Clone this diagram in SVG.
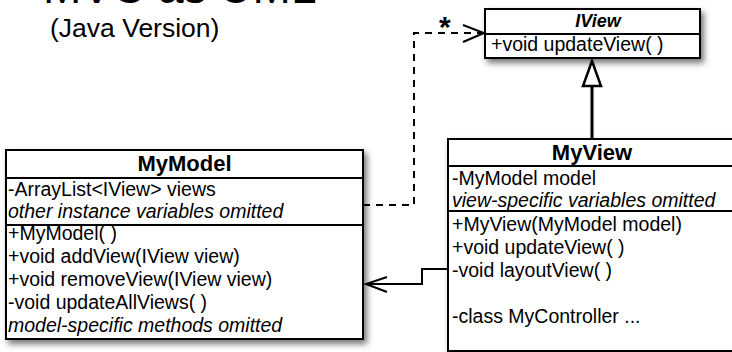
<svg xmlns="http://www.w3.org/2000/svg" width="732" height="352" viewBox="0 0 732 352">
<defs>
<filter id="sh" x="-10%" y="-10%" width="130%" height="140%">
<feDropShadow dx="3" dy="4" stdDeviation="3" flood-color="#000" flood-opacity="0.55"/>
</filter>
<style>
text{font-family:"Liberation Sans",Arial,sans-serif;fill:#000}
.box{fill:#fff;stroke:#000;stroke-width:2}
.div{stroke:#000;stroke-width:2}
.t{font-size:19.5px}
.i{font-style:italic}
.h{font-size:22px;font-weight:bold;text-anchor:middle}
.ln{fill:none;stroke:#000;stroke-width:2}
</style>
</defs>
<text x="43" y="3" style="font-size:46px">MVC as UML</text>
<text x="50" y="37" style="font-size:26.5px">(Java Version)</text>

<g id="IView">
<rect class="box" x="485" y="9" width="215" height="49" filter="url(#sh)"/>
<line class="div" x1="485" y1="34" x2="700" y2="34"/>
<text x="598" y="27" style="font-size:18px;font-weight:bold;font-style:italic;text-anchor:middle">IView</text>
<text class="t" x="491" y="51">+void updateView( )</text>
</g>

<g id="MyModel">
<rect class="box" x="6" y="150" width="357" height="189" filter="url(#sh)"/>
<line class="div" x1="6" y1="178" x2="363" y2="178"/>
<line class="div" x1="6" y1="225" x2="363" y2="225"/>
<text class="h" x="184.5" y="171">MyModel</text>
<text class="t" x="8" y="196">-ArrayList&lt;IView&gt; views</text>
<text class="t i" x="8" y="218">other instance variables omitted</text>
<text class="t" x="8" y="240">+MyModel( )</text>
<text class="t" x="8" y="263">+void addView(IView view)</text>
<text class="t" x="8" y="286">+void removeView(IView view)</text>
<text class="t" x="8" y="309">-void updateAllViews( )</text>
<text class="t i" x="8" y="332">model-specific methods omitted</text>
</g>

<g id="MyView">
<rect class="box" x="448" y="139" width="292" height="212" filter="url(#sh)"/>
<line class="div" x1="448" y1="166" x2="740" y2="166"/>
<line class="div" x1="448" y1="211" x2="740" y2="211"/>
<text class="h" x="592" y="160">MyView</text>
<text class="t" x="452" y="185">-MyModel model</text>
<text class="t i" x="452" y="207">view-specific variables omitted</text>
<text class="t" x="452" y="231">+MyView(MyModel model)</text>
<text class="t" x="452" y="254">+void updateView( )</text>
<text class="t" x="452" y="277">-void layoutView( )</text>
<text class="t" x="452" y="323">-class MyController ...</text>
</g>

<g id="connectors">
<path class="ln" d="M363,205 H414 V33 H483" stroke-dasharray="7,6"/>
<path class="ln" d="M463,25 L484,33 L463,42"/>
<text x="439" y="37" style="font-size:30px;font-weight:bold">*</text>
<line x1="592" y1="138" x2="592" y2="86" stroke="#000" stroke-width="3"/>
<polygon points="592,61 583,86 601,86" fill="#fff" stroke="#000" stroke-width="2.5"/>
<path class="ln" d="M448,269 H422 V284 H366"/>
<path class="ln" d="M387,277 L366,284 L387,292"/>
</g>
</svg>
